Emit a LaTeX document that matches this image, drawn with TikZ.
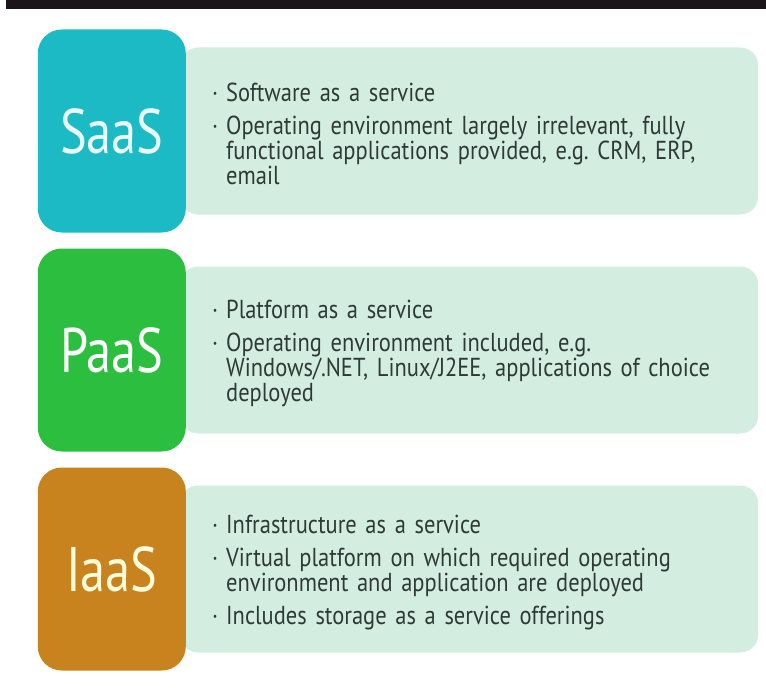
\documentclass[tikz,border=0pt]{standalone}
\usepackage{fontspec}
\setmainfont{PT Sans}
\newfontfamily\tierfont[FakeStretch=0.8]{PT Sans}
\newfontfamily\infofont[FakeStretch=0.865, WordSpace=0.75]{PT Sans}
\usepackage{tikz}
\usetikzlibrary{positioning}
\definecolor{saascol}{HTML}{1CBAC4}
\definecolor{paascol}{HTML}{2CBE3E}
\definecolor{iaascol}{HTML}{C8821E}
\definecolor{infocol}{HTML}{D3EDE1}
\definecolor{inktext}{HTML}{2F3A35}
\definecolor{topbar}{HTML}{1B1418}
\newcommand{\bul}{\par\leftskip=8pt\hangindent=14pt\hangafter=1\noindent\makebox[14pt][l]{·}}
\frenchspacing

\begin{document}
\begin{tikzpicture}[x=1pt, y=-1pt,
  tier/.style = {rounded corners=24pt, minimum width=148pt, minimum height=203pt, inner sep=0pt, font=\tierfont\fontsize{63}{63}\selectfont},
  info/.style = {fill=infocol, rounded corners=18pt, anchor=west, minimum height=167pt, text width=530pt, inner xsep=24pt, inner ysep=0pt, align=left, text=inktext, font={\infofont\fontsize{26}{25}\selectfont\setlength{\parskip}{8pt}}}]
\useasboundingbox (0,0) rectangle (766,693);
\fill[topbar] (6,0) rectangle (766,9);
\node[info] (saasinfo) at (180,131) {\bul Software as a service\bul Operating environment largely irrelevant, fully\newline functional applications provided, e.g. CRM, ERP,\newline email\par\vspace{8pt}};
\node[info] (paasinfo) at (180,350) {\bul Platform as a service\bul Operating environment included, e.g.\newline Windows/.NET, Linux/J2EE, applications of choice\newline deployed\par\vspace{8pt}};
\node[info] (iaasinfo) at (180,569) {\bul Infrastructure as a service\bul Virtual platform on which required operating\newline environment and application are deployed\bul Includes storage as a service offerings\par\vspace{8pt}};
\node[tier, fill=saascol, text=cyan!8] (saas) [left=-6pt of saasinfo] {SaaS};
\node[tier, fill=paascol, text=white] (paas) [left=-6pt of paasinfo] {PaaS};
\node[tier, fill=iaascol, text=yellow!15] (iaas) [left=-6pt of iaasinfo] {IaaS};
\end{tikzpicture}
\end{document}
